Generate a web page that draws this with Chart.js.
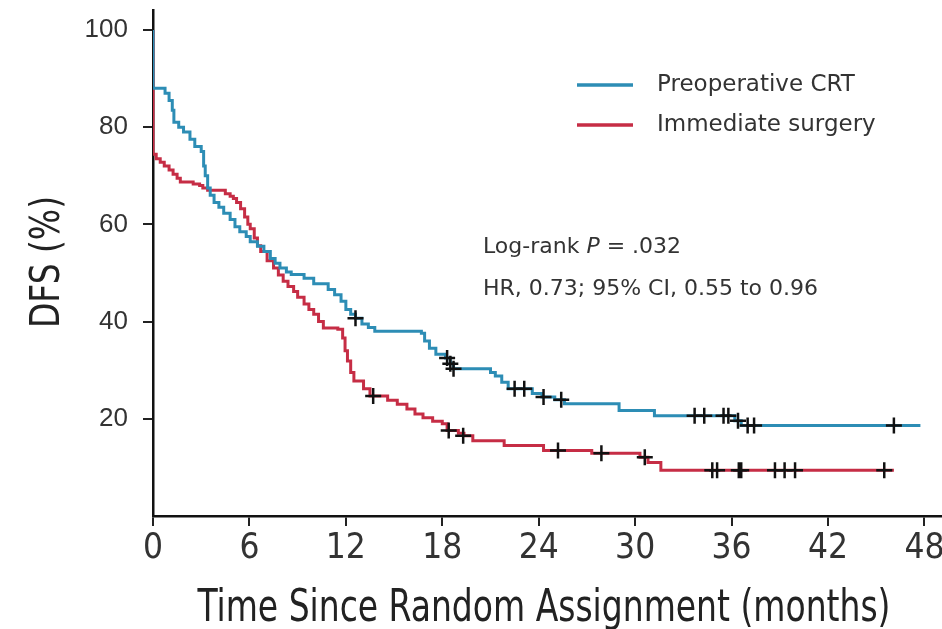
<!DOCTYPE html>
<html>
<head>
<meta charset="utf-8">
<script src="https://cdn.jsdelivr.net/npm/chart.js@4"></script>
<style>
html,body{margin:0;padding:0;background:#fff;overflow:hidden;}
#wrap{width:942px;height:629px;position:relative;overflow:hidden;}
</style>
</head>
<body>
<div id="wrap"><canvas id="c" width="951" height="629"></canvas></div>
<script>
// ---- data ----
const seriesNames = ["Preoperative CRT", "Immediate surgery"];
const xTicks = [0, 6, 12, 18, 24, 30, 36, 42, 48];
const yTicks = [20, 40, 60, 80, 100];
const xTitle = "Time Since Random Assignment (months)";
const yTitle = "DFS (%)";

const crtTime = [0, 0, 0.75, 1.0, 1.2, 1.3, 1.6, 1.9, 2.3, 2.6, 3.0, 3.15, 3.25, 3.4, 3.56, 3.8, 4.1, 4.4, 4.8, 5.1, 5.4, 5.8, 6.05, 6.5, 6.9, 7.3, 7.6, 7.9, 8.3, 8.6, 9.4, 10.0, 10.9, 11.3, 11.7, 12.0, 12.3, 12.6, 13.0, 13.4, 13.8, 16.7, 16.9, 17.2, 17.6, 18.2, 18.5, 18.7, 21.0, 21.3, 21.7, 22.1, 23.6, 24.2, 25.0, 25.6, 29.0, 31.2, 36.2, 36.6, 47.75];
const crtSurv = [100, 88, 87, 85.5, 83.5, 81, 80, 79, 77.5, 76, 75, 72, 70, 67.5, 66, 64.5, 63.5, 62.3, 61, 59.5, 58.5, 57.5, 56.4, 55.5, 54.4, 53, 52, 51, 50.2, 49.7, 48.9, 47.8, 46.6, 45.5, 44.2, 42.5, 41.5, 40.7, 39.5, 38.8, 38, 37.6, 36, 34.5, 33.3, 32.5, 31.3, 30.3, 29.5, 28.8, 27.5, 26.2, 25.2, 24.5, 23.9, 23.1, 21.7, 20.6, 19.6, 18.6, 18.6];
const crtCensTime = [12.6, 18.3, 18.5, 18.7, 22.5, 23.1, 24.3, 25.4, 33.7, 34.3, 35.5, 35.8, 36.4, 37.0, 37.4, 46.1];
const crtCensSurv = [40.7, 32.5, 31.3, 30.3, 26.2, 26.2, 24.5, 23.9, 20.6, 20.6, 20.6, 20.6, 19.6, 18.6, 18.6, 18.6];

const surgTime = [0, 0, 0.2, 0.45, 0.7, 1.0, 1.25, 1.5, 1.7, 2.5, 2.9, 3.1, 3.4, 4.5, 4.8, 5.0, 5.2, 5.45, 5.7, 5.9, 6.05, 6.3, 6.5, 6.7, 7.1, 7.5, 7.8, 8.1, 8.4, 8.75, 9.0, 9.4, 9.7, 10.0, 10.3, 10.6, 11.5, 11.8, 11.95, 12.1, 12.3, 12.5, 13.1, 13.5, 14.6, 15.2, 15.8, 16.3, 16.8, 17.4, 18.0, 18.3, 19.0, 19.35, 19.9, 21.85, 24.3, 27.3, 30.3, 30.8, 31.6, 46.1];
const surgSurv = [100, 74.4, 73.5, 72.8, 72, 71.2, 70.3, 69.5, 68.7, 68.3, 68, 67.5, 67, 66.3, 65.8, 65.3, 64.5, 63.2, 61.5, 60, 59.1, 57.2, 55.6, 54.4, 52.5, 51, 49.6, 48.3, 47.2, 46.2, 45, 43.6, 42.5, 41.5, 40, 38.7, 38.4, 36.6, 34, 31.9, 29.5, 27.8, 26.2, 24.7, 23.8, 23.0, 22.0, 21.0, 20.2, 19.5, 19.0, 17.6, 17.0, 16.5, 15.5, 14.5, 13.5, 12.9, 12.1, 11.0, 9.4, 9.4];
const surgCensTime = [13.7, 18.4, 19.3, 25.2, 27.9, 30.6, 34.8, 35.1, 36.45, 36.6, 38.7, 39.3, 39.95, 45.5];
const surgCensSurv = [24.7, 17.6, 16.5, 13.5, 12.9, 12.1, 9.4, 9.4, 9.4, 9.4, 9.4, 9.4, 9.4, 9.4];

const annotLine1a = "Log-rank ";
const annotLine1b = "P";
const annotLine1c = " = .032";
const annotLine2 = "HR, 0.73; 95% CI, 0.55 to 0.96";

// ---- styles ----
const BLUE = "#2d8db5";
const RED = "#c62d45";
const NARROW = "'Liberation Sans Narrow', 'DejaVu Sans Condensed', 'Arial Narrow', sans-serif";

function pts(t, s) { return t.map((v, i) => ({ x: v, y: s[i] })); }

const decorPlugin = {
  id: 'kmDecor',
  afterDraw(chart) {
    const ctx = chart.ctx;
    ctx.save();
    // legend
    const items = [[seriesNames[0], BLUE, 85], [seriesNames[1], RED, 125]];
    ctx.lineWidth = 3.5;
    ctx.font = "23px 'DejaVu Sans', sans-serif";
    ctx.textBaseline = 'middle';
    ctx.textAlign = 'left';
    items.forEach(([label, col, y]) => {
      ctx.strokeStyle = col;
      ctx.beginPath(); ctx.moveTo(577, y); ctx.lineTo(633, y); ctx.stroke();
      ctx.fillStyle = '#333';
      ctx.fillText(label, 657, y);
    });
    // annotation
    ctx.fillStyle = '#333';
    let x = 483;
    ctx.font = "22px 'DejaVu Sans', sans-serif";
    ctx.fillText(annotLine1a, x, 247); x += ctx.measureText(annotLine1a).width;
    ctx.font = "italic 22px 'DejaVu Sans', sans-serif";
    ctx.fillText(annotLine1b, x, 247); x += ctx.measureText(annotLine1b).width;
    ctx.font = "22px 'DejaVu Sans', sans-serif";
    ctx.fillText(annotLine1c, x, 247);
    ctx.fillText(annotLine2, 483, 289);
    // x title (condensed by horizontal scaling)
    ctx.fillStyle = '#222';
    ctx.font = "44px " + NARROW;
    ctx.textAlign = 'center';
    ctx.textBaseline = 'alphabetic';
    const w = ctx.measureText(xTitle).width;
    ctx.save();
    ctx.translate(544, 621);
    ctx.scale(693 / w, 1);
    ctx.fillText(xTitle, 0, 0);
    ctx.restore();
    // y title
    ctx.font = "40px " + NARROW;
    const wy = ctx.measureText(yTitle).width;
    ctx.save();
    ctx.translate(59, 262);
    ctx.rotate(-Math.PI / 2);
    ctx.scale(132 / wy, 1);
    ctx.fillText(yTitle, 0, 0);
    ctx.restore();
    ctx.restore();
  }
};

new Chart(document.getElementById('c'), {
  type: 'line',
  data: {
    datasets: [
      { label: seriesNames[0], data: pts(crtTime, crtSurv), borderColor: BLUE, borderWidth: 3, stepped: true, pointRadius: 0, fill: false, order: 2 },
      { label: seriesNames[1], data: pts(surgTime, surgSurv), borderColor: RED, borderWidth: 3, stepped: true, pointRadius: 0, fill: false, order: 2 },
      { label: 'cens1', data: pts(crtCensTime, crtCensSurv), showLine: false, pointStyle: 'cross', pointRadius: 8, borderColor: '#111', borderWidth: 2.5, order: 1 },
      { label: 'cens2', data: pts(surgCensTime, surgCensSurv), showLine: false, pointStyle: 'cross', pointRadius: 8, borderColor: '#111', borderWidth: 2.5, order: 1 }
    ]
  },
  options: {
    responsive: false,
    animation: false,
    devicePixelRatio: 1,
    layout: { padding: { left: 0, right: 4, top: 7, bottom: 0 } },
    plugins: { legend: { display: false }, tooltip: { enabled: false } },
    scales: {
      x: {
        type: 'linear', min: 0, max: 49,
        afterFit: s => { s.height = 113; },
        afterBuildTicks: s => { s.ticks = xTicks.map(v => ({ value: v })); },
        grid: { drawOnChartArea: false, drawTicks: true, tickLength: 10, color: '#222', lineWidth: 2 },
        border: { display: true, color: '#111', width: 2.5 },
        ticks: { color: '#333', font: { family: NARROW, size: 35 }, padding: 2, maxRotation: 0, autoSkip: false },
        title: { display: false }
      },
      y: {
        type: 'linear', min: 0, max: 104,
        afterFit: s => { s.width = 153; s.paddingTop = 0; s.paddingBottom = 0; },
        afterBuildTicks: s => { s.ticks = yTicks.map(v => ({ value: v })); },
        grid: { drawOnChartArea: false, drawTicks: true, tickLength: 10, color: '#222', lineWidth: 2 },
        border: { display: true, color: '#111', width: 2.5 },
        ticks: { color: '#333', font: { family: "'Liberation Sans', Arial, sans-serif", size: 26 }, padding: 15 },
        title: { display: false }
      }
    }
  },
  plugins: [decorPlugin]
});
</script>
</body>
</html>
